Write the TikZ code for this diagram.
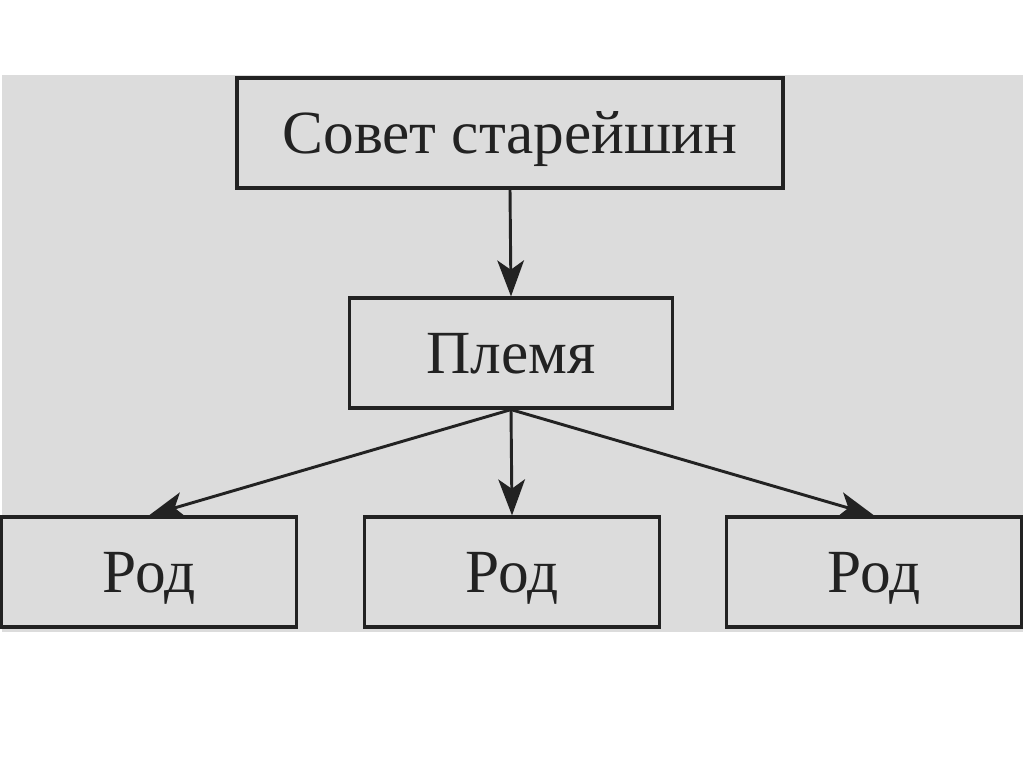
\documentclass[tikz,border=0pt]{standalone}
\usepackage{fontspec}
\setmainfont{Liberation Serif}
\usetikzlibrary{arrows.meta}
\definecolor{paper}{HTML}{DCDCDC}
\definecolor{ink}{HTML}{222222}

\tikzset{
  box/.style={draw=ink, fill=paper, line width=2.4pt, text=ink,
    minimum height=82.5pt, inner sep=0pt, text height=30.5pt, text depth=0pt,
    font=\fontsize{46}{50}\selectfont},
  link/.style={draw=ink, line width=2.2pt, -{Stealth[length=27pt, width=20pt, inset=7pt]}}
}

\begin{document}
\begin{tikzpicture}[x=0.75pt,y=-0.75pt]
	\useasboundingbox (0,0) rectangle (1024,767);
	\fill[paper] (2,75) rectangle (1023,632);
	\node[box, minimum width=409.5pt] (sovet) at (510,133) {Совет старейшин};
	\node[box, minimum width=242pt] (plemya) at (511,353) {Племя};
	\node[box, minimum width=221pt] (rod1) at (149,572) {Род};
	\node[box, minimum width=221pt] (rod2) at (512,572) {Род};
	\node[box, minimum width=221pt] (rod3) at (874,572) {Род};
	\draw[link] (sovet.south) -- (plemya.north);
	\foreach \r in {rod1,rod2,rod3}
	  \draw[link] (plemya.south) -- (\r.north);
\end{tikzpicture}
\end{document}
